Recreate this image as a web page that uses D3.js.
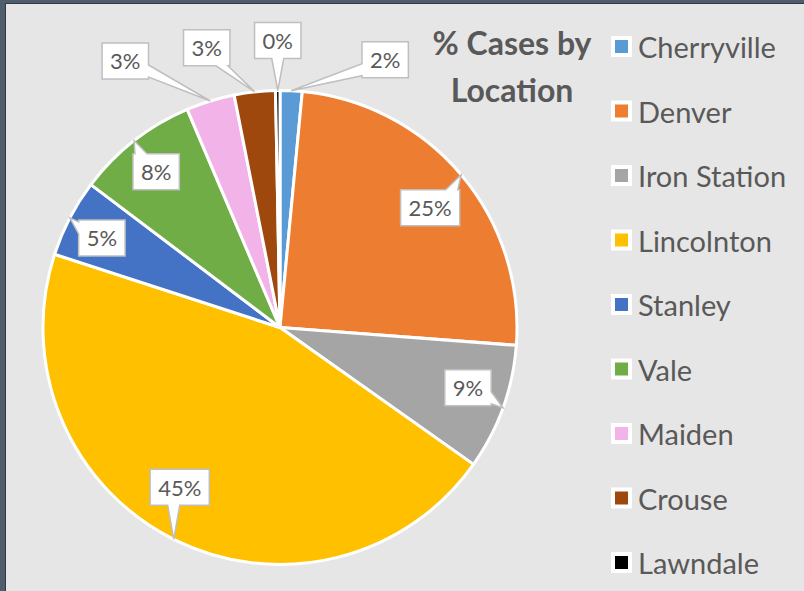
<!DOCTYPE html>
<html>
<head>
<meta charset="utf-8">
<script src="https://cdn.jsdelivr.net/npm/d3@7"></script>
<style>
  body { margin: 0; background: #fff; }
  svg { display: block; font-family: Lato, "Open Sans", sans-serif; }
</style>
</head>
<body>
<div id="chart"></div>
<script>
// data
var locations = ['Cherryville', 'Denver', 'Iron Station', 'Lincolnton', 'Stanley', 'Vale', 'Maiden', 'Crouse', 'Lawndale']
var share = [1.5, 24.7, 8.6, 45.2, 5.3, 8.3, 3.3, 2.8, 0.3]
var colors = ['#5b9bd5', '#ed7d31', '#a5a5a5', '#ffc000', '#4472c4', '#70ad47', '#f2b4e8', '#9e480e', '#000000']
var title = ['% Cases by', 'Location']

var data = locations.map((d, i) => ({name: d, value: share[i]}))
var total = d3.sum(share)

var W = 804, H = 591
var cx = 280, cy = 327.5, radius = 237

// callout offsets from the arc anchor (label placement only)
var labelOffset = [[94, -31], [-31, 33], [-35, -20], [6, -52], [32, 20], [22, 31], [-85, -40], [-48, -44], [0, -50]]

var colorScale = d3.scaleOrdinal().domain(locations).range(colors)

var svg = d3.select('#chart').append('svg')
    .attr('width', W)
    .attr('height', H)

svg.append('rect').attr('width', W).attr('height', H).attr('fill', '#e7e6e6')
// dark frame on top/left edges
svg.append('rect').attr('x', 0).attr('y', 0).attr('width', W).attr('height', 4).attr('fill', '#4f5d6d')
svg.append('rect').attr('x', 0).attr('y', 0).attr('width', 5).attr('height', H).attr('fill', '#4f5d6d')
svg.append('rect').attr('x', 5).attr('y', 4).attr('width', 1).attr('height', H).attr('fill', '#2e3a4a')
svg.append('rect').attr('x', 5).attr('y', 3).attr('width', W).attr('height', 1).attr('fill', '#2e3a4a')

var pie = d3.pie().sort(null).value(d => d.value)
var arc = d3.arc().innerRadius(0).outerRadius(radius)
var arcs = pie(data)

var g = svg.append('g').attr('transform', 'translate(' + cx + ',' + cy + ')')

g.selectAll('path.slice')
    .data(arcs)
    .enter().append('path')
    .attr('class', 'slice')
    .attr('d', arc)
    .attr('fill', d => colorScale(d.data.name))
    .attr('stroke', '#fff')
    .attr('stroke-width', 3)
    .attr('stroke-linejoin', 'round')

// callout labels
function calloutPath(x0, y0, x1, y1, ax, ay) {
    var hw = 6, m = 8
    var clamp = (v, a, b) => Math.max(a, Math.min(b, v))
    var dxo = ax < x0 ? x0 - ax : (ax > x1 ? ax - x1 : 0)
    var dyo = ay < y0 ? y0 - ay : (ay > y1 ? ay - y1 : 0)
    var p
    if (dyo >= dxo) {
        var bx = clamp(ax, x0 + m, x1 - m)
        if (ay < y0) {
            p = [[x0, y0], [bx - hw, y0], [ax, ay], [bx + hw, y0], [x1, y0], [x1, y1], [x0, y1]]
        } else {
            p = [[x0, y0], [x1, y0], [x1, y1], [bx + hw, y1], [ax, ay], [bx - hw, y1], [x0, y1]]
        }
    } else {
        var by = clamp(ay, y0 + m, y1 - m)
        if (ax > x1) {
            p = [[x0, y0], [x1, y0], [x1, by - hw], [ax, ay], [x1, by + hw], [x1, y1], [x0, y1]]
        } else {
            p = [[x0, y0], [x1, y0], [x1, y1], [x0, y1], [x0, by + hw], [ax, ay], [x0, by - hw]]
        }
    }
    return 'M' + p.map(q => q.join(',')).join('L') + 'Z'
}

var labels = g.selectAll('g.callout')
    .data(arcs)
    .enter().append('g')
    .attr('class', 'callout')

labels.each(function(d, i) {
    var el = d3.select(this)
    var mid = (d.startAngle + d.endAngle) / 2
    var ax = radius * Math.sin(mid), ay = -radius * Math.cos(mid)
    var bx = ax + labelOffset[i][0], by = ay + labelOffset[i][1]
    var txt = Math.round(d.data.value / total * 100) + '%'
    var path = el.append('path')
    var t = el.append('text')
        .attr('x', bx).attr('y', by)
        .attr('text-anchor', 'middle')
        .attr('dominant-baseline', 'central')
        .attr('fill', '#595959')
        .style('font-size', '22px')
        .text(txt)
    var tw = t.node().getComputedTextLength()
    var w = tw + 16, h = 36
    path.attr('d', calloutPath(bx - w / 2, by - h / 2, bx + w / 2, by + h / 2, ax, ay))
        .attr('fill', '#fff')
        .attr('stroke', '#bfbfbf')
        .attr('stroke-width', 1.5)
})

// title
svg.append('g').selectAll('text')
    .data(title)
    .enter().append('text')
    .attr('x', 512)
    .attr('y', (d, i) => 55 + i * 47)
    .attr('text-anchor', 'middle')
    .attr('fill', '#595959')
    .style('font-size', '32px')
    .style('font-weight', 'bold')
    .text(d => d)

// legend
var legend = svg.append('g').attr('class', 'legend')
var legendY = d3.scalePoint().domain(locations).range([46.5, 562.5])

var item = legend.selectAll('g')
    .data(locations)
    .enter().append('g')
    .attr('transform', d => 'translate(611,' + legendY(d) + ')')

item.append('rect')
    .attr('x', 0).attr('y', -10.5)
    .attr('width', 21).attr('height', 21)
    .attr('fill', '#fff')
item.append('rect')
    .attr('x', 4).attr('y', -6.5)
    .attr('width', 13).attr('height', 13)
    .attr('fill', d => colorScale(d))
item.append('text')
    .attr('x', 27)
    .attr('y', 0)
    .attr('dominant-baseline', 'central')
    .attr('fill', '#595959')
    .style('font-size', '29px')
    .text(d => d)
</script>
</body>
</html>
